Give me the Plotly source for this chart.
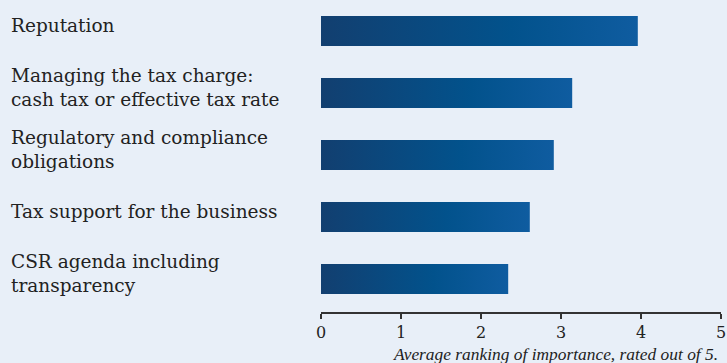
import plotly.graph_objects as go

categories = [
    "Reputation",
    "Managing the tax charge:<br>cash tax or effective tax rate",
    "Regulatory and compliance<br>obligations",
    "Tax support for the business",
    "CSR agenda including<br>transparency",
]
values = [3.96, 3.14, 2.91, 2.61, 2.34]
tick_vals = [0, 1, 2, 3, 4, 5]
tick_text = ["0", "1", "2", "3", "4", "5"]
axis_note = "Average ranking of importance, rated out of 5."

BG = "#e8eff8"
TEXT = "#222222"
HALF = 0.242
GRAD = [[0.0, "#123f70"], [0.6, "#02528c"], [1.0, "#0f5ca0"]]

fig = go.Figure()
for i, v in enumerate(values):
    fig.add_trace(go.Scatter(
        x=[0, v, v, 0, 0],
        y=[i - HALF, i - HALF, i + HALF, i + HALF, i - HALF],
        mode="lines",
        line=dict(width=0),
        fill="toself",
        fillgradient=dict(type="horizontal", colorscale=GRAD),
        hoverinfo="skip",
        showlegend=False,
    ))

L, R = 320.5, 5.5
plot_w = 727 - L - R
for i, c in enumerate(categories):
    fig.add_annotation(
        x=(8 - L) / plot_w, xref="paper", xanchor="left",
        y=i, yref="y", yanchor="middle", yshift=6,
        text=c, align="left", showarrow=False,
        font=dict(family="DejaVu Serif", size=18.5, color=TEXT),
    )

fig.add_annotation(
    x=(719 - L) / plot_w, xref="paper", xanchor="right",
    y=0, yref="paper", yanchor="middle", yshift=-42,
    text=axis_note, showarrow=False, borderpad=0,
    font=dict(family="Liberation Serif", size=17.4, color=TEXT, style="italic"),
)

fig.update_layout(
    width=727, height=363,
    margin=dict(l=L, r=R, t=0, b=51, pad=0),
    paper_bgcolor=BG, plot_bgcolor=BG,
    xaxis=dict(
        range=[0, 5], tickvals=tick_vals, ticktext=tick_text,
        showgrid=False, zeroline=False,
        showline=True, linecolor="#333333", linewidth=1.5,
        ticks="outside", ticklen=5, tickwidth=1.5, tickcolor="#333333",
        tickfont=dict(family="DejaVu Serif", size=16, color=TEXT),
        fixedrange=True,
    ),
    yaxis=dict(
        range=[4.532, -0.5], showgrid=False, zeroline=False,
        showticklabels=False, showline=False, fixedrange=True,
    ),
)

fig.write_html("out.html")
